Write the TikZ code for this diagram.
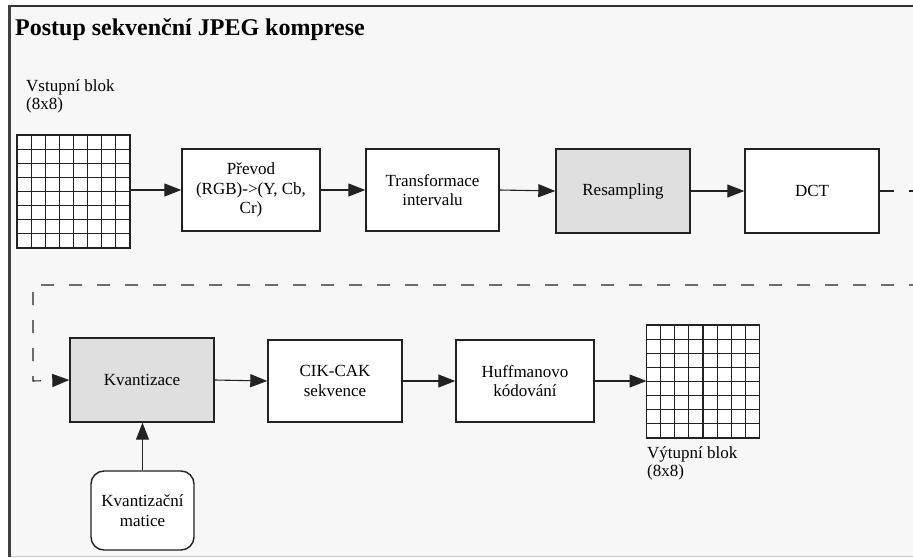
\documentclass[tikz,border=0pt]{standalone}
\usepackage{fontspec}
\setmainfont{Liberation Serif}
\usetikzlibrary{arrows.meta,calc}
\definecolor{bgc}{HTML}{F7F7F7}
\definecolor{boxgray}{HTML}{DFDFDF}
\definecolor{linec}{HTML}{222222}
\tikzset{
  procbox/.style={draw=linec, line width=1.4pt, fill=white, minimum width=134pt, minimum height=82pt, inner sep=2pt, align=center, font=\fontsize{17}{19.5}\selectfont},
  graybox/.style={procbox, fill=boxgray},
  gridbox/.style={draw=linec, line width=1.4pt, fill=white, minimum width=113pt, minimum height=113pt, inner sep=0pt, outer sep=0pt},
  gridline/.style={line width=1.2pt, draw=linec},
  flow/.style={line width=1.1pt, draw=linec, -{Triangle[length=17pt,width=13pt]}},
  dflow/.style={flow, dash pattern=on 13pt off 15pt},
  lbl/.style={align=left, anchor=north west, inner sep=0pt, font=\fontsize{17}{18.5}\selectfont}
}
\begin{document}
\begin{tikzpicture}[x=1pt,y=-1pt]
\useasboundingbox (0,0) rectangle (913,557);
\fill[white] (0,0) rectangle (913,557);
\fill[bgc] (9,6) rectangle (913,556);
\draw[line width=0.8pt, draw=gray!40] (9,556) -- (913,556);
\draw[line width=2pt, draw=black!80] (9,6) -- (913,6);
\draw[line width=3pt, draw=black!75] (9,5) -- (9,557);

\node[anchor=base west, inner sep=0pt, font=\bfseries\fontsize{24}{28}\selectfont] (title) at (15,35) {Postup sekvenční JPEG komprese};

\node[lbl] (inlbl) at (26,79) {Vstupní blok\\(8x8)};
\node[gridbox] (ing) at (73.5,191.5) {};
\foreach \i in {1,...,7} {
  \draw[gridline] ($(ing.north west)!\i/8!(ing.north east)$) -- ($(ing.south west)!\i/8!(ing.south east)$);
  \draw[gridline] ($(ing.north west)!\i/8!(ing.south west)$) -- ($(ing.north east)!\i/8!(ing.south east)$);
}

\node[procbox, minimum width=138pt] (prevod) at (251,190) {Převod\\(RGB)->(Y, Cb,\\Cr)};
\node[procbox, minimum width=133pt] (transf) at (432.5,190) {Transformace\\intervalu};
\node[graybox, minimum height=84pt] (resamp) at (623,191) {Resampling};
\node[procbox, minimum height=84pt] (dct) at (812,191) {DCT};

\draw[flow] (ing.east |- prevod.west) -- (prevod.west);
\draw[flow] (prevod.east) -- (transf.west);
\draw[flow] (transf.east) -- (resamp.west);
\draw[flow] (resamp.east) -- (dct.west);

\coordinate (dend) at (913,191);
\draw[line width=1.1pt, draw=linec, dash pattern=on 14pt off 15pt] (dct.east) -- (dend);

\node[graybox, minimum width=144pt, minimum height=84pt] (kvant) at (142,380) {Kvantizace};
\node[procbox] (cik) at (335,381) {CIK-CAK\\sekvence};
\node[procbox, minimum width=138pt] (huff) at (525,381) {Huffmanovo\\kódování};
\node[gridbox] (outg) at (703,381.5) {};
\foreach \i in {1,...,7} {
  \draw[gridline] ($(outg.north west)!\i/8!(outg.north east)$) -- ($(outg.south west)!\i/8!(outg.south east)$);
  \draw[gridline] ($(outg.north west)!\i/8!(outg.south west)$) -- ($(outg.north east)!\i/8!(outg.south east)$);
}
\node[lbl] (outlbl) at (647,446) {Výtupní blok\\(8x8)};

\node[procbox, rounded corners=13pt, minimum width=103pt, minimum height=79pt] (matice) at (142.5,510.5) {Kvantizační\\matice};

\coordinate (dstart) at (913,285);
\coordinate (dcorner) at (33,285);
\coordinate (dlow) at (33,381);
\draw[dflow, dash phase=9pt] (dstart) -- (dcorner) -- (dlow) -- (kvant.west);

\draw[flow] (kvant.east) -- (cik.west);
\draw[flow] (cik.east) -- (huff.west);
\draw[flow] (huff.east) -- (outg.west |- huff.east);
\draw[flow] (matice.north) -- (kvant.south -| matice.north);
\end{tikzpicture}
\end{document}
